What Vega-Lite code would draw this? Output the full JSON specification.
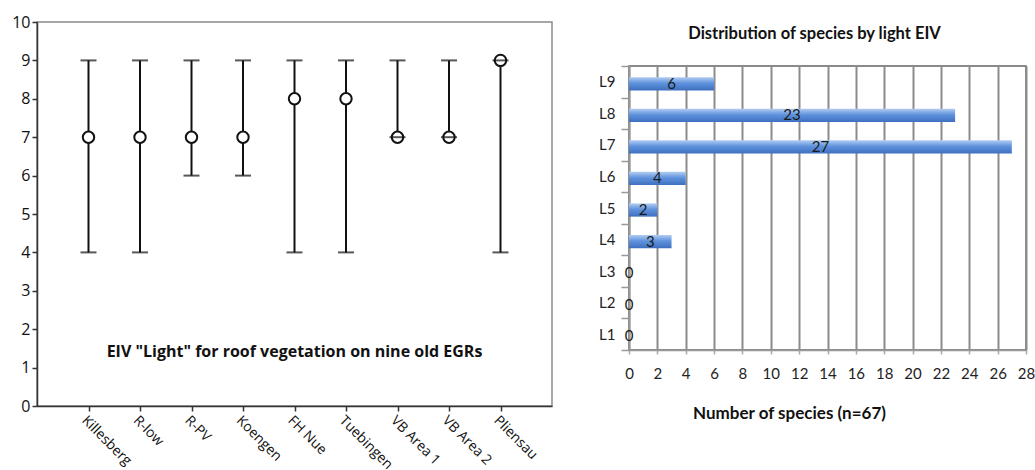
{
  "$schema": "https://vega.github.io/schema/vega-lite/v6.json",
  "background": "white",
  "padding": {"left": 10, "top": 13, "right": 0, "bottom": 5},
  "spacing": 44,
  "config": {
    "font": "Open Sans",
    "view": {"stroke": "#8a8a8a", "strokeWidth": 1.5},
    "axis": {"labelColor": "#111", "titleColor": "#111", "labelOverlap": false}
  },
  "hconcat": [
    {
      "width": 515,
      "height": 384,
      "data": {
        "values": [
          {"site": "Killesberg", "min": 4, "max": 9, "median": 7},
          {"site": "R-low", "min": 4, "max": 9, "median": 7},
          {"site": "R-PV", "min": 6, "max": 9, "median": 7},
          {"site": "Koengen", "min": 6, "max": 9, "median": 7},
          {"site": "FH Nue", "min": 4, "max": 9, "median": 8},
          {"site": "Tuebingen", "min": 4, "max": 9, "median": 8},
          {"site": "VB Area 1", "min": 7, "max": 9, "median": 7},
          {"site": "VB Area 2", "min": 7, "max": 9, "median": 7},
          {"site": "Pliensau", "min": 4, "max": 9, "median": 9}
        ]
      },
      "layer": [
        {
          "mark": {"type": "rule", "color": "#111", "strokeWidth": 2},
          "encoding": {
            "x": {
              "field": "site", "type": "nominal", "sort": null,
              "scale": {"type": "point", "padding": 1},
              "axis": {
                "title": null, "labelAngle": 45, "labelAlign": "left", "labelBaseline": "top",
                "labelFontSize": 14, "labelPadding": 2, "tickSize": 5, "tickColor": "#333",
                "tickWidth": 1.5, "domainColor": "#333", "domainWidth": 1.5, "grid": false, "labelOverlap": false
              }
            },
            "y": {
              "field": "min", "type": "quantitative",
              "scale": {"domain": [0, 10], "nice": false},
              "axis": {
                "title": null, "values": [0, 1, 2, 3, 4, 5, 6, 7, 8, 9, 10], "grid": false, "labelOverlap": false,
                "labelFontSize": 16, "labelPadding": 2, "tickSize": 5, "tickColor": "#333",
                "tickWidth": 1.5, "domainColor": "#333", "domainWidth": 1.5
              }
            },
            "y2": {"field": "max"}
          }
        },
        {
          "mark": {"type": "point", "shape": "circle", "filled": false, "fill": "white", "fillOpacity": 1, "stroke": "#111", "strokeWidth": 2, "size": 130, "opacity": 1},
          "encoding": {
            "x": {"field": "site", "type": "nominal", "sort": null},
            "y": {
              "field": "median", "type": "quantitative",
              "axis": {
                "title": null, "values": [0, 1, 2, 3, 4, 5, 6, 7, 8, 9, 10], "grid": false, "labelOverlap": false,
                "labelFontSize": 16, "labelPadding": 2, "tickSize": 5, "tickColor": "#333",
                "tickWidth": 1.5, "domainColor": "#333", "domainWidth": 1.5
              }
            }
          }
        },
        {
          "mark": {"type": "tick", "color": "#111", "thickness": 2, "size": 16, "orient": "horizontal"},
          "encoding": {
            "x": {"field": "site", "type": "nominal", "sort": null},
            "y": {
              "field": "min", "type": "quantitative",
              "axis": {
                "title": null, "values": [0, 1, 2, 3, 4, 5, 6, 7, 8, 9, 10], "grid": false, "labelOverlap": false,
                "labelFontSize": 16, "labelPadding": 2, "tickSize": 5, "tickColor": "#333",
                "tickWidth": 1.5, "domainColor": "#333", "domainWidth": 1.5
              }
            }
          }
        },
        {
          "mark": {"type": "tick", "color": "#111", "thickness": 2, "size": 16, "orient": "horizontal"},
          "encoding": {
            "x": {"field": "site", "type": "nominal", "sort": null},
            "y": {
              "field": "max", "type": "quantitative",
              "axis": {
                "title": null, "values": [0, 1, 2, 3, 4, 5, 6, 7, 8, 9, 10], "grid": false, "labelOverlap": false,
                "labelFontSize": 16, "labelPadding": 2, "tickSize": 5, "tickColor": "#333",
                "tickWidth": 1.5, "domainColor": "#333", "domainWidth": 1.5
              }
            }
          }
        },
        {
          "data": {"values": [{"label": "EIV \"Light\" for roof vegetation on nine old EGRs"}]},
          "mark": {"type": "text", "fontSize": 16, "fontWeight": "bold", "color": "#111", "align": "center", "baseline": "middle"},
          "encoding": {
            "y": {
              "datum": 1.4, "type": "quantitative",
              "axis": {
                "title": null, "values": [0, 1, 2, 3, 4, 5, 6, 7, 8, 9, 10], "grid": false, "labelOverlap": false,
                "labelFontSize": 16, "labelPadding": 2, "tickSize": 5, "tickColor": "#333",
                "tickWidth": 1.5, "domainColor": "#333", "domainWidth": 1.5
              }
            },
            "text": {"field": "label"}
          }
        }
      ]
    },
    {
      "spacing": 1,
      "vconcat": [
        {
          "width": 10,
          "height": 1,
          "view": {"stroke": null},
          "data": {"values": [{"k": 1}]},
          "mark": {"type": "rule", "opacity": 0},
          "encoding": {}
        },
        {
          "width": 397,
          "height": 284,
          "view": {"stroke": "#666"},
          "title": {
            "text": "Distribution of species by light EIV",
            "font": "Lato", "fontSize": 16.5, "fontWeight": "bold", "color": "#111",
            "anchor": "middle", "offset": 17, "dx": -13
          },
          "data": {
            "values": [
              {"level": "L9", "count": 6},
              {"level": "L8", "count": 23},
              {"level": "L7", "count": 27},
              {"level": "L6", "count": 4},
              {"level": "L5", "count": 2},
              {"level": "L4", "count": 3},
              {"level": "L3", "count": 0},
              {"level": "L2", "count": 0},
              {"level": "L1", "count": 0}
            ]
          },
          "encoding": {
            "y": {
              "field": "level", "type": "nominal",
              "sort": ["L9", "L8", "L7", "L6", "L5", "L4", "L3", "L2", "L1"],
              "scale": {"paddingInner": 0, "paddingOuter": 0},
              "axis": {
                "title": null, "labelFont": "Lato", "labelFontSize": 15, "labelColor": "#222",
                "labelPadding": 6, "tickSize": 8, "tickColor": "#999", "tickWidth": 1.5,
                "tickBand": "extent", "domainColor": "#999", "domainWidth": 1.5
              }
            }
          },
          "layer": [
            {
              "mark": {
                "type": "bar", "height": {"band": 0.42}, "yOffset": 2,
                "color": {
                  "gradient": "linear", "x1": 0, "y1": 0, "x2": 0, "y2": 1,
                  "stops": [
                    {"offset": 0, "color": "#b3cdf2"},
                    {"offset": 0.45, "color": "#5f93dd"},
                    {"offset": 1, "color": "#3e6fc0"}
                  ]
                }
              },
              "encoding": {
                "x": {
                  "field": "count", "type": "quantitative",
                  "scale": {"domain": [0, 28], "nice": false},
                  "axis": {
                    "values": [0, 2, 4, 6, 8, 10, 12, 14, 16, 18, 20, 22, 24, 26, 28], "labelOverlap": false, "labelFlush": false,
                    "grid": true, "gridColor": "#8c8c8c", "gridWidth": 2,
                    "tickSize": 4, "tickColor": "#aaa", "tickWidth": 1.5,
                    "domainColor": "#999", "domainWidth": 1.5,
                    "labelFont": "Lato", "labelFontSize": 15, "labelColor": "#222", "labelPadding": 12,
                    "title": "Number of species (n=67)", "titleFont": "Lato", "titleFontSize": 17,
                    "titleFontWeight": "bold", "titleColor": "#111", "titlePadding": 24, "titleX": 160
                  }
                }
              }
            },
            {
              "transform": [{"calculate": "datum.count / 2", "as": "mid"}],
              "mark": {"type": "text", "font": "Lato", "fontSize": 15, "color": "#1a1a1a", "align": "center", "baseline": "middle", "yOffset": 2},
              "encoding": {
                "x": {
                  "field": "mid", "type": "quantitative",
                  "axis": {
                    "values": [0, 2, 4, 6, 8, 10, 12, 14, 16, 18, 20, 22, 24, 26, 28], "labelOverlap": false, "labelFlush": false,
                    "grid": true, "gridColor": "#8c8c8c", "gridWidth": 2,
                    "tickSize": 4, "tickColor": "#aaa", "tickWidth": 1.5,
                    "domainColor": "#999", "domainWidth": 1.5,
                    "labelFont": "Lato", "labelFontSize": 15, "labelColor": "#222", "labelPadding": 12,
                    "title": "Number of species (n=67)", "titleFont": "Lato", "titleFontSize": 17,
                    "titleFontWeight": "bold", "titleColor": "#111", "titlePadding": 24, "titleX": 160
                  }
                },
                "text": {"field": "count", "type": "quantitative"}
              }
            }
          ]
        }
      ]
    }
  ]
}
